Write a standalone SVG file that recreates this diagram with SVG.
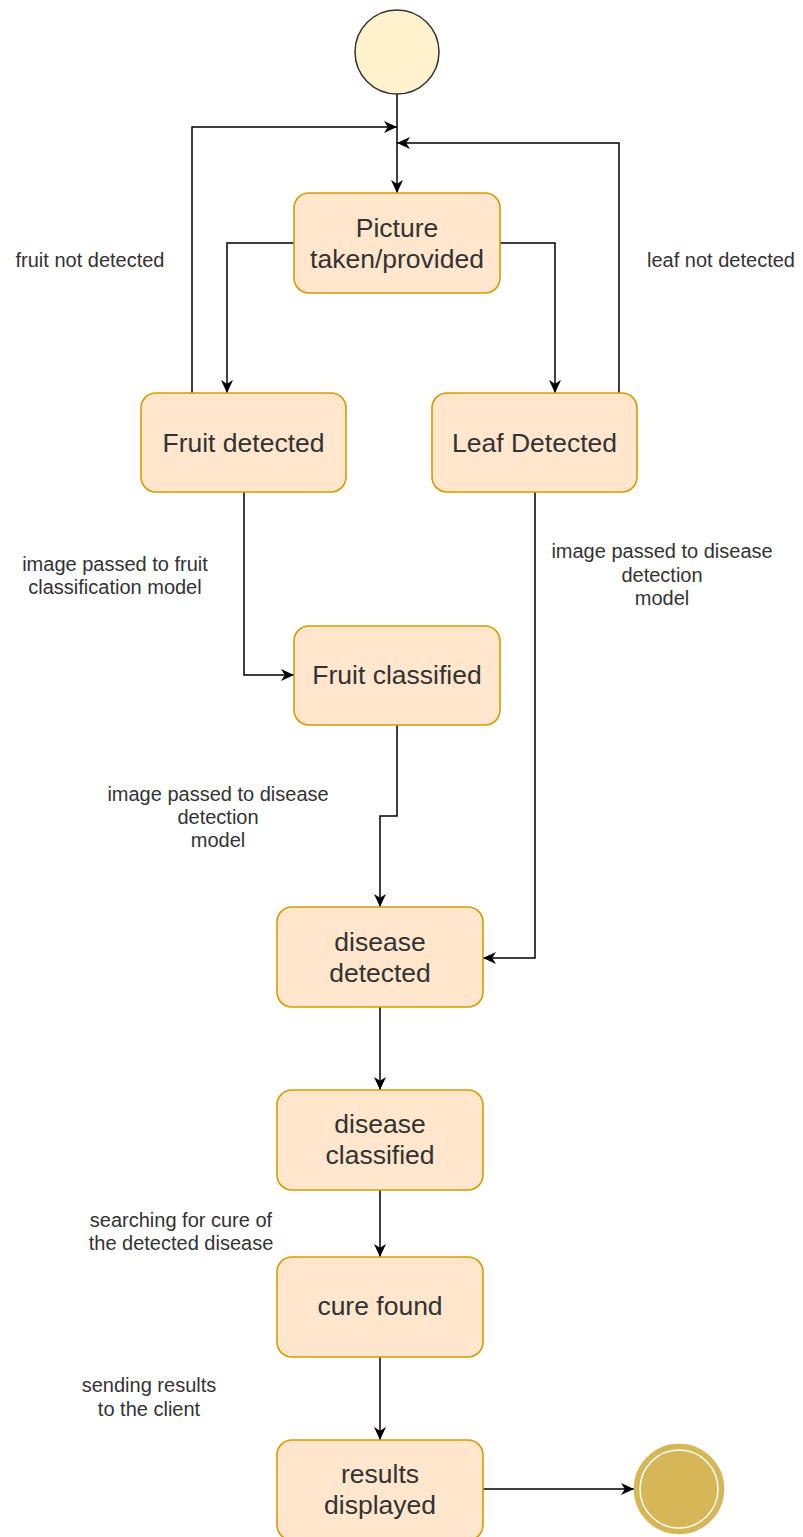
<svg xmlns="http://www.w3.org/2000/svg" width="803" height="1537" viewBox="0 0 803 1537">
  <defs>
    <marker id="arrow" markerUnits="userSpaceOnUse" markerWidth="13" markerHeight="13" viewBox="0 0 13 13" refX="13" refY="6.5" orient="auto">
      <path d="M0,0.5 L13,6.5 L0,12.5 L3.8,6.5 Z" fill="#000"/>
    </marker>
    <style>
      .state { fill: #ffe6cc; stroke: #d79b00; stroke-width: 1.6; }
      .node-text { font-family: "Liberation Sans", Arial, sans-serif; font-size: 26.5px; fill: #333; text-anchor: middle; }
      .label { font-family: "Liberation Sans", Arial, sans-serif; font-size: 20px; fill: #333; text-anchor: middle; }
      .edge { fill: none; stroke: #000; stroke-width: 1.5; marker-end: url(#arrow); }
    </style>
  </defs>
  <rect width="803" height="1537" fill="#fff"/>

  <!-- transitions -->
  <g id="connectors">
    <path class="edge" d="M397,94 V193"/>
    <path class="edge" d="M294,243 H227 V393"/>
    <path class="edge" d="M500,243 H555 V393"/>
    <path class="edge" d="M192,393 V127 H397"/>
    <path class="edge" d="M619,393 V143 H397"/>
    <path class="edge" d="M244,492 V675 H294"/>
    <path class="edge" d="M397,725 V816 H380 V907"/>
    <path class="edge" d="M535,492 V958 H483"/>
    <path class="edge" d="M380,1007 V1090"/>
    <path class="edge" d="M380,1190 V1257"/>
    <path class="edge" d="M380,1357 V1440"/>
    <path class="edge" d="M483,1489 H634"/>
  </g>

  <!-- transition labels -->
  <g id="labels">
    <text class="label" x="90" y="267">fruit not detected</text>
    <text class="label" x="721" y="267">leaf not detected</text>
    <text class="label" x="115" y="571">image passed to fruit</text>
    <text class="label" x="115" y="594">classification model</text>
    <text class="label" x="662" y="558">image passed to disease</text>
    <text class="label" x="662" y="582">detection</text>
    <text class="label" x="662" y="605">model</text>
    <text class="label" x="218" y="801">image passed to disease</text>
    <text class="label" x="218" y="824">detection</text>
    <text class="label" x="218" y="847">model</text>
    <text class="label" x="181" y="1227">searching for cure of</text>
    <text class="label" x="181" y="1250">the detected disease</text>
    <text class="label" x="149" y="1392">sending results</text>
    <text class="label" x="149" y="1416">to the client</text>
  </g>

  <!-- initial state -->
  <g id="start">
    <circle cx="397" cy="52" r="42" fill="#fff2cc" stroke="#333" stroke-width="1.5"/>
  </g>

  <g id="picture-taken">
    <rect class="state" x="294" y="193" width="206" height="100" rx="15"/>
    <text class="node-text" x="397" y="237">Picture</text>
    <text class="node-text" x="397" y="268">taken/provided</text>
  </g>

  <g id="fruit-detected">
    <rect class="state" x="141" y="393" width="205" height="99" rx="15"/>
    <text class="node-text" x="243.5" y="452">Fruit detected</text>
  </g>

  <g id="leaf-detected">
    <rect class="state" x="432" y="393" width="205" height="99" rx="15"/>
    <text class="node-text" x="534.5" y="452">Leaf Detected</text>
  </g>

  <g id="fruit-classified">
    <rect class="state" x="294" y="626" width="206" height="99" rx="15"/>
    <text class="node-text" x="397" y="684">Fruit classified</text>
  </g>

  <g id="disease-detected">
    <rect class="state" x="277" y="907" width="206" height="100" rx="15"/>
    <text class="node-text" x="380" y="951">disease</text>
    <text class="node-text" x="380" y="982">detected</text>
  </g>

  <g id="disease-classified">
    <rect class="state" x="277" y="1090" width="206" height="100" rx="15"/>
    <text class="node-text" x="380" y="1133">disease</text>
    <text class="node-text" x="380" y="1164">classified</text>
  </g>

  <g id="cure-found">
    <rect class="state" x="277" y="1257" width="206" height="100" rx="15"/>
    <text class="node-text" x="380" y="1315">cure found</text>
  </g>

  <g id="results-displayed">
    <rect class="state" x="277" y="1440" width="206" height="100" rx="15"/>
    <text class="node-text" x="380" y="1483">results</text>
    <text class="node-text" x="380" y="1514">displayed</text>
  </g>

  <!-- final state -->
  <g id="end">
    <circle cx="679" cy="1489" r="44.5" fill="#d6b656" stroke="#d6b656" stroke-width="1.5"/>
    <circle cx="679" cy="1489" r="39" fill="none" stroke="#fff" stroke-width="1.5"/>
  </g>
</svg>
